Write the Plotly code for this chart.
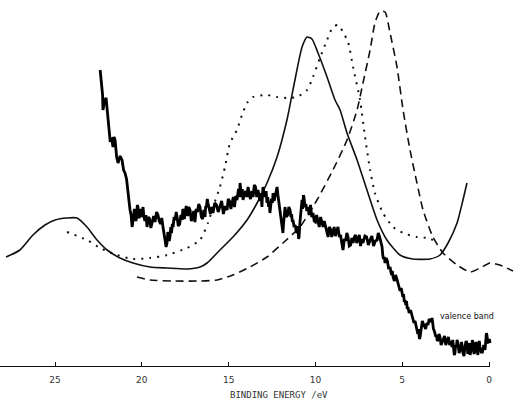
import plotly.graph_objects as go

# ---------------- data (binding energy in eV, intensity in arbitrary units) -------------
solid_x = [27.82, 27.02, 26.27, 25.58, 25.0, 24.31, 23.73, 23.16, 22.58, 22.00, 21.26, 20.51,
           19.53, 18.55, 17.40, 16.65, 16.24, 15.50, 14.75, 13.94, 13.36, 12.79, 12.21, 11.64,
           11.18, 10.77, 10.48, 10.20, 9.85, 9.33, 8.87, 8.58, 8.18, 7.60, 7.03, 6.45, 5.88,
           5.13, 4.38, 3.40, 2.82, 2.36, 1.84, 1.50, 1.27]
solid_y = [110, 117, 132, 142, 147, 149, 149, 140, 127, 117, 109, 104,
           100, 99, 98, 100, 104, 117, 130, 147, 164, 184, 210, 247,
           287, 320, 330, 328, 314, 290, 267, 257, 234, 207, 177, 147, 127,
           112, 108, 108, 112, 124, 144, 167, 184]

dotted_x = [24.31, 23.16, 22.40, 21.43, 20.51, 19.53, 18.55, 17.40, 16.65, 16.19, 15.90, 15.50,
            15.21, 14.92, 14.52, 14.23, 13.94, 13.59, 12.79, 12.21, 11.64, 11.06, 10.48, 10.14,
            9.74, 9.33, 8.99, 8.70, 8.41, 8.12, 7.83, 7.43, 7.14, 6.85, 6.57, 6.11, 5.53, 4.95,
            4.15, 3.57, 3.23]
dotted_y = [135, 127, 119, 112, 108, 109, 112, 119, 127, 144, 160, 180,
            200, 224, 237, 252, 264, 270, 272, 270, 269, 270, 277, 290,
            309, 327, 340, 342, 335, 325, 300, 267, 230, 197, 174, 154, 140, 134,
            130, 129, 127]

dashed_x = [20.28, 19.53, 18.20, 16.65, 15.67, 14.75, 13.77, 12.79, 11.87, 10.89, 9.91, 8.99,
            8.18, 7.60, 7.26, 6.85, 6.57, 6.28, 5.99, 5.70, 5.30, 4.95, 4.55, 4.15, 3.80, 3.23,
            2.65, 1.84, 1.09, 0.52, -0.06, -0.63, -1.38]
dashed_y = [90, 87, 86, 86, 87, 92, 100, 110, 124, 140, 167, 197,
            227, 257, 284, 317, 344, 356, 355, 334, 300, 257, 217, 184, 157, 130,
            114, 102, 95, 99, 104, 102, 96]

valence_x = [
    22.40, 22.34, 22.29, 22.26, 22.24, 22.15, 22.06, 22.00, 21.95, 21.89, 21.83, 21.74,
    21.66, 21.60, 21.54, 21.45, 21.37, 21.25, 21.14, 21.05, 20.97, 20.88, 20.80, 20.74,
    20.68, 20.62, 20.56, 20.51, 20.47, 20.43, 20.39, 20.34, 20.30, 20.26, 20.22, 20.16,
    20.10, 20.04, 19.99, 19.96, 19.93, 19.88, 19.82, 19.76, 19.70, 19.62, 19.55, 19.48,
    19.41, 19.32, 19.24, 19.15, 19.07, 19.00, 18.92, 18.85, 18.78, 18.72, 18.66, 18.60,
    18.55, 18.50, 18.46, 18.42, 18.38, 18.33, 18.29, 18.24, 18.20, 18.14, 18.08, 18.02,
    17.97, 17.90, 17.82, 17.75, 17.68, 17.64, 17.60, 17.55, 17.51, 17.44, 17.36, 17.29,
    17.22, 17.15, 17.08, 17.01, 16.94, 16.87, 16.80, 16.72, 16.65, 16.57, 16.50, 16.43,
    16.36, 16.32, 16.28, 16.23, 16.19, 16.12, 16.05, 15.97, 15.90, 15.80, 15.70, 15.60,
    15.50, 15.40, 15.30, 15.20, 15.09, 15.02, 14.95, 14.87, 14.80, 14.73, 14.66, 14.59,
    14.52, 14.47, 14.43, 14.38, 14.34, 14.29, 14.25, 14.21, 14.17, 14.10, 14.02, 13.95,
    13.88, 13.81, 13.74, 13.66, 13.59, 13.52, 13.45, 13.38, 13.31, 13.25, 13.20, 13.14,
    13.08, 13.05, 13.02, 12.96, 12.90, 12.84, 12.79, 12.74, 12.70, 12.66, 12.62, 12.57,
    12.53, 12.48, 12.44, 12.38, 12.32, 12.26, 12.21, 12.16, 12.12, 12.08, 12.04, 11.99,
    11.95, 11.91, 11.87, 11.84, 11.81, 11.78, 11.75, 11.68, 11.60, 11.53, 11.46, 11.41,
    11.37, 11.33, 11.29, 11.23, 11.17, 11.11, 11.06, 11.03, 11.00, 10.97, 10.94, 10.89,
    10.85, 10.81, 10.77, 10.74, 10.72, 10.69, 10.66, 10.60, 10.55, 10.49, 10.43, 10.36,
    10.28, 10.21, 10.14, 10.07, 10.00, 9.93, 9.85, 9.78, 9.70, 9.63, 9.56, 9.49,
    9.42, 9.34, 9.27, 9.20, 9.13, 9.06, 8.99, 8.92, 8.85, 8.77, 8.70, 8.62,
    8.55, 8.48, 8.41, 8.33, 8.26, 8.19, 8.12, 8.05, 7.97, 7.90, 7.83, 7.76,
    7.69, 7.62, 7.55, 7.47, 7.40, 7.33, 7.26, 7.15, 7.05, 6.95, 6.85, 6.75,
    6.65, 6.55, 6.45, 6.38, 6.30, 6.23, 6.16, 6.12, 6.08, 6.03, 5.99, 5.92,
    5.85, 5.78, 5.70, 5.65, 5.61, 5.57, 5.53, 5.45, 5.38, 5.31, 5.24, 5.18,
    5.12, 5.06, 5.01, 4.96, 4.92, 4.88, 4.84, 4.79, 4.75, 4.71, 4.67, 4.60,
    4.52, 4.45, 4.38, 4.32, 4.26, 4.20, 4.15, 4.10, 4.06, 4.01, 3.97, 3.92,
    3.88, 3.84, 3.80, 3.72, 3.65, 3.58, 3.51, 3.45, 3.40, 3.34, 3.28, 3.24,
    3.20, 3.15, 3.11, 3.06, 3.02, 2.98, 2.94, 2.88, 2.82, 2.76, 2.71, 2.63,
    2.56, 2.49, 2.42, 2.34, 2.27, 2.20, 2.13, 2.09, 2.05, 2.00, 1.96, 1.92,
    1.88, 1.84, 1.79, 1.72, 1.65, 1.58, 1.50, 1.44, 1.38, 1.32, 1.27, 1.22,
    1.18, 1.14, 1.09, 1.04, 1.00, 0.96, 0.92, 0.86, 0.80, 0.75, 0.69, 0.64,
    0.60, 0.56, 0.52, 0.45, 0.38, 0.30, 0.23, 0.20, 0.18, 0.15, 0.12, 0.08,
    0.03, -0.02, -0.06]
valence_y = [
    297, 285, 280, 272, 257, 266, 269, 258, 254, 236, 227, 228,
    220, 230, 227, 210, 204, 211, 207, 197, 194, 188, 174, 168,
    157, 152, 140, 146, 151, 158, 154, 146, 150, 162, 160, 149,
    152, 158, 150, 156, 160, 150, 146, 152, 140, 150, 148, 139,
    144, 151, 145, 155, 152, 146, 143, 149, 140, 133, 128, 120,
    124, 135, 133, 126, 130, 140, 134, 143, 140, 150, 147, 155,
    150, 141, 143, 152, 147, 158, 156, 148, 154, 161, 151, 160,
    157, 146, 149, 156, 145, 158, 155, 163, 160, 150, 148, 157,
    150, 161, 160, 168, 164, 156, 153, 160, 154, 164, 162, 155,
    160, 166, 153, 161, 157, 168, 166, 158, 164, 170, 160, 171,
    167, 175, 178, 170, 184, 175, 170, 178, 167, 172, 176, 170,
    180, 172, 168, 176, 170, 182, 180, 170, 177, 172, 166, 174,
    160, 172, 180, 174, 170, 176, 164, 170, 160, 166, 154, 162,
    168, 164, 174, 166, 171, 176, 180, 172, 166, 160, 154, 150,
    146, 140, 134, 142, 148, 155, 160, 150, 152, 160, 157, 150,
    153, 145, 147, 140, 142, 136, 134, 141, 138, 128, 130, 145,
    150, 160, 167, 158, 162, 172, 170, 160, 163, 156, 160, 152,
    162, 150, 154, 146, 145, 152, 147, 140, 150, 143, 140, 146,
    141, 134, 130, 140, 138, 130, 134, 140, 131, 136, 140, 130,
    132, 124, 117, 128, 126, 134, 130, 121, 122, 129, 124, 130,
    132, 124, 127, 132, 121, 128, 124, 131, 130, 122, 127, 131,
    121, 126, 127, 134, 130, 124, 120, 112, 108, 110, 104, 109,
    106, 98, 100, 95, 92, 96, 90, 86, 92, 88, 84, 80,
    76, 79, 74, 70, 73, 65, 67, 62, 66, 58, 60, 54,
    57, 52, 50, 44, 46, 40, 37, 33, 38, 28, 30, 36,
    40, 46, 44, 40, 38, 44, 42, 48, 47, 45, 49, 42,
    38, 36, 34, 30, 32, 26, 27, 33, 30, 22, 24, 29,
    31, 22, 27, 30, 22, 26, 20, 27, 21, 12, 14, 22,
    20, 27, 24, 14, 17, 25, 14, 11, 21, 26, 24, 13,
    17, 24, 12, 16, 19, 27, 24, 13, 17, 25, 14, 12,
    22, 26, 20, 15, 15, 22, 17, 22, 26, 34, 32, 25,
    24, 28, 24]

tick_vals = [25, 20, 15, 10, 5, 0]
tick_text = ["25", "20", "15", "10", "5", "0"]
x_title = "BINDING ENERGY /eV"
label_text = "valence band"
label_pos = (2.94, 51)

# ---------------- figure -------------
fig = go.Figure()
fig.add_trace(go.Scatter(x=solid_x, y=solid_y, mode="lines",
                         line=dict(color="#111", width=1.6, shape="spline", smoothing=0.6)))
fig.add_trace(go.Scatter(x=dotted_x, y=dotted_y, mode="lines",
                         line=dict(color="#111", width=2, shape="spline", smoothing=0.6, dash="2px,6px")))
fig.add_trace(go.Scatter(x=dashed_x, y=dashed_y, mode="lines",
                         line=dict(color="#111", width=1.6, shape="spline", smoothing=0.6, dash="8px,5px")))
fig.add_trace(go.Scatter(x=valence_x, y=valence_y, mode="lines",
                         line=dict(color="#000", width=2.8)))

fig.add_annotation(x=label_pos[0], y=label_pos[1], text=label_text, showarrow=False,
                   xanchor="left", yanchor="middle",
                   font=dict(family="DejaVu Sans", size=8, color="#111"))

# axis title placed as in the original figure (slightly right of centre)
fig.add_annotation(x=0.543, y=-0.076, xref="paper", yref="paper", text=x_title,
                   showarrow=False, xanchor="center", yanchor="middle",
                   font=dict(family="DejaVu Sans Mono", size=9, color="#333"))

# baseline (axis line ends at 0 eV)
fig.add_shape(type="line", xref="x", yref="y", x0=28.3, x1=0, y0=0, y1=0,
              line=dict(color="#111", width=2))

fig.update_layout(
    width=514, height=402,
    margin=dict(l=0, r=0, t=0, b=35),
    paper_bgcolor="white", plot_bgcolor="white",
    showlegend=False,
    xaxis=dict(range=[28.17, -1.44], tickvals=tick_vals, ticktext=tick_text,
               ticks="inside", ticklen=5, tickwidth=1.2, tickcolor="#111",
               ticklabelstandoff=6,
               showgrid=False, zeroline=False, showline=False,
               tickfont=dict(family="DejaVu Sans", size=9, color="#333")),
    yaxis=dict(range=[0, 367], visible=False),
)

fig.write_html("out.html", config={"displayModeBar": False},
               post_script="document.body.style.margin='0px';")
